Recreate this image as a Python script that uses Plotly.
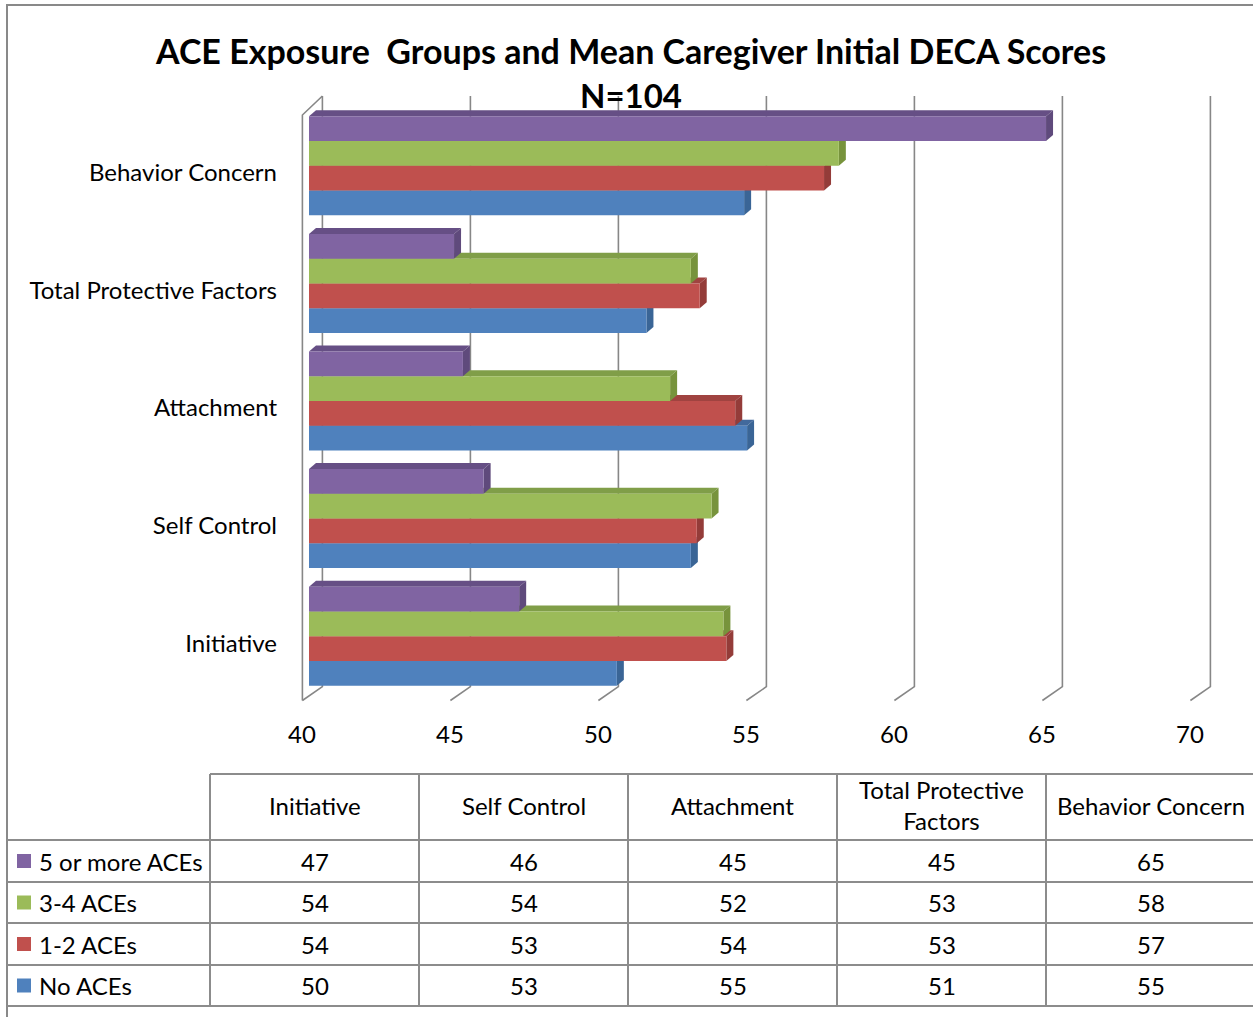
import plotly.graph_objects as go

# ---------------- data ----------------
categories = ["Initiative", "Self Control", "Attachment", "Total Protective Factors", "Behavior Concern"]
series_names = ["No ACEs", "1-2 ACEs", "3-4 ACEs", "5 or more ACEs"]
no_aces = [50.4, 52.9, 54.8, 51.4, 54.7]
aces_1_2 = [54.1, 53.1, 54.4, 53.2, 57.4]
aces_3_4 = [54.0, 53.6, 52.2, 52.9, 57.9]
aces_5_more = [47.1, 45.9, 45.2, 44.9, 64.9]
x_ticks = [40, 45, 50, 55, 60, 65, 70]
title_text = "ACE Exposure \u00a0Groups and Mean Caregiver Initial DECA Scores"
subtitle_text = "N=104"

series_values = [no_aces, aces_1_2, aces_3_4, aces_5_more]
front_colors = ["#4F81BD", "#C0504D", "#9BBB59", "#8064A2"]
side_colors = ["#3A6596", "#943C39", "#77933C", "#5F4A7C"]
top_colors = ["#42699C", "#A04340", "#809E48", "#664F85"]

FONT = "Lato"
GRID = "#878787"
TABLE_LINE = "#8C8C8C"

# ---------------- geometry ----------------
W, H = 1253, 1017
ML, MR, MT, MB = 309, 56, 107, 322
PW = W - ML - MR
PH = H - MT - MB
X_MIN, X_MAX = x_ticks[0], x_ticks[-1]
Y_MIN, Y_MAX = -0.5, len(categories) - 0.5
BARGAP = 0.158
NS = len(series_values)
DX_PX, DY_PX = 7, 6


def pxx(px):
    return (px - ML) / PW


def pxy(py):
    return (H - MB - py) / PH


def v2px(v):
    return ML + (v - X_MIN) / (X_MAX - X_MIN) * PW


dxu = DX_PX * (X_MAX - X_MIN) / PW
dyu = DY_PX * (Y_MAX - Y_MIN) / PH
ypos = list(range(len(categories)))

fig = go.Figure()
for name, vals, col in zip(series_names, series_values, front_colors):
    fig.add_trace(go.Bar(
        name=name, y=ypos, x=vals, orientation="h",
        marker=dict(color=col, line=dict(width=0)),
        hoverinfo="x+name",
    ))

shapes = []

# back-plane gridlines with floor diagonals (3D walls)
for v in x_ticks:
    fx = v2px(v) - 6.6
    bx = v2px(v) + 13.4
    path = f"M {pxx(bx)},{pxy(96)} L {pxx(bx)},{pxy(686.7)} L {pxx(fx)},{pxy(700.5)}"
    shapes.append(dict(type="path", xref="paper", yref="paper", path=path,
                       line=dict(color=GRID, width=1.6), layer="below"))
# left wall front edge
fx0 = v2px(X_MIN) - 6.6
bx0 = v2px(X_MIN) + 13.4
shapes.append(dict(type="path", xref="paper", yref="paper",
                   path=f"M {pxx(fx0)},{pxy(700.5)} L {pxx(fx0)},{pxy(115)} L {pxx(bx0)},{pxy(96)}",
                   line=dict(color=GRID, width=1.6), layer="below"))

# bar depth faces (top and right side)
group_w = 1 - BARGAP
bw = group_w / NS
for j, (vals, tcol, scol) in enumerate(zip(series_values, top_colors, side_colors)):
    for i, v in enumerate(vals):
        yc = ypos[i] - group_w / 2 + (j + 0.5) * bw
        yt, yb = yc + bw / 2, yc - bw / 2
        top = (f"M {X_MIN},{yt} L {X_MIN + dxu},{yt + dyu} L {v + dxu},{yt + dyu} "
               f"L {v},{yt} Z")
        side = (f"M {v},{yt} L {v + dxu},{yt + dyu} L {v + dxu},{yb + dyu} L {v},{yb} Z")
        shapes.append(dict(type="path", xref="x", yref="y", path=top,
                           fillcolor=tcol, line=dict(width=0), layer="below"))
        shapes.append(dict(type="path", xref="x", yref="y", path=side,
                           fillcolor=scol, line=dict(width=0), layer="below"))

# outer chart border
shapes.append(dict(type="rect", xref="paper", yref="paper",
                   x0=pxx(7), y0=pxy(5), x1=pxx(1262), y1=pxy(1030),
                   line=dict(color="#898989", width=2), fillcolor="rgba(0,0,0,0)"))

# ---------------- data table ----------------
col_edges = [7, 210, 419, 628, 837, 1046, 1255]
row_edges = [774, 840, 882, 923, 965, 1006]
line = dict(color=TABLE_LINE, width=2)
# header top line (skips empty corner)
shapes.append(dict(type="line", xref="paper", yref="paper", x0=pxx(col_edges[1]), x1=pxx(col_edges[-1]),
                   y0=pxy(row_edges[0]), y1=pxy(row_edges[0]), line=line))
for ry in row_edges[1:]:
    shapes.append(dict(type="line", xref="paper", yref="paper", x0=pxx(col_edges[0]), x1=pxx(col_edges[-1]),
                       y0=pxy(ry), y1=pxy(ry), line=line))
for cx in col_edges[1:-1]:
    shapes.append(dict(type="line", xref="paper", yref="paper", x0=pxx(cx), x1=pxx(cx),
                       y0=pxy(row_edges[0]), y1=pxy(row_edges[-1]), line=line))

annotations = []
tfont = dict(family=FONT, size=24, color="#000000")


def wrap(label):
    if len(label) > 17:
        a, b = label.rsplit(" ", 1)
        return a + "<br>" + b
    return label


for k, cat in enumerate(categories):
    cx = (col_edges[k + 1] + col_edges[k + 2]) / 2
    cy = (row_edges[0] + row_edges[1]) / 2 - 2
    annotations.append(dict(x=pxx(cx), y=pxy(cy), xref="paper", yref="paper", text=wrap(cat),
                            showarrow=False, font=tfont, xanchor="center", yanchor="middle"))

row_order = list(range(NS))[::-1]
for r, j in enumerate(row_order):
    cy = (row_edges[r + 1] + row_edges[r + 2]) / 2
    shapes.append(dict(type="rect", xref="paper", yref="paper",
                       x0=pxx(17), x1=pxx(31), y0=pxy(cy - 7), y1=pxy(cy + 7),
                       fillcolor=front_colors[j], line=dict(width=0)))
    annotations.append(dict(x=pxx(37), y=pxy(cy), xref="paper", yref="paper", text=series_names[j],
                            showarrow=False, font=tfont, xanchor="left", yanchor="middle"))
    for k, v in enumerate(series_values[j]):
        cx = (col_edges[k + 1] + col_edges[k + 2]) / 2
        annotations.append(dict(x=pxx(cx), y=pxy(cy), xref="paper", yref="paper", text=f"{round(v)}",
                                showarrow=False, font=tfont, xanchor="center", yanchor="middle"))

# title
annotations.append(dict(x=pxx(630), y=pxy(50), xref="paper", yref="paper", text=title_text,
                        showarrow=False, xanchor="center", yanchor="middle",
                        font=dict(family=FONT, size=34, color="#000000", weight=700)))
annotations.append(dict(x=pxx(631), y=pxy(95), xref="paper", yref="paper", text=subtitle_text,
                        showarrow=False, xanchor="center", yanchor="middle",
                        font=dict(family=FONT, size=33, color="#000000", weight=700)))

fig.update_layout(
    width=W, height=H,
    margin=dict(l=ML, r=MR, t=MT, b=MB, autoexpand=False),
    paper_bgcolor="#FFFFFF", plot_bgcolor="rgba(0,0,0,0)",
    barmode="group", bargap=BARGAP, bargroupgap=0,
    showlegend=False,
    shapes=shapes, annotations=annotations,
    xaxis=dict(range=[X_MIN, X_MAX], tickvals=x_ticks, showgrid=False, zeroline=False,
               showline=False, ticks="", ticklabelshift=-7, ticklabelstandoff=23,
               tickfont=dict(family=FONT, size=24, color="#000000"), fixedrange=True),
    yaxis=dict(range=[Y_MIN, Y_MAX], tickvals=ypos, ticktext=categories, showgrid=False,
               zeroline=False, showline=False, ticks="", ticklabelshift=7, ticklabelstandoff=31,
               tickfont=dict(family=FONT, size=24, color="#000000"), fixedrange=True),
)

fig.write_html("out.html", config={"displayModeBar": False},
               post_script="document.body.style.margin='0';")
